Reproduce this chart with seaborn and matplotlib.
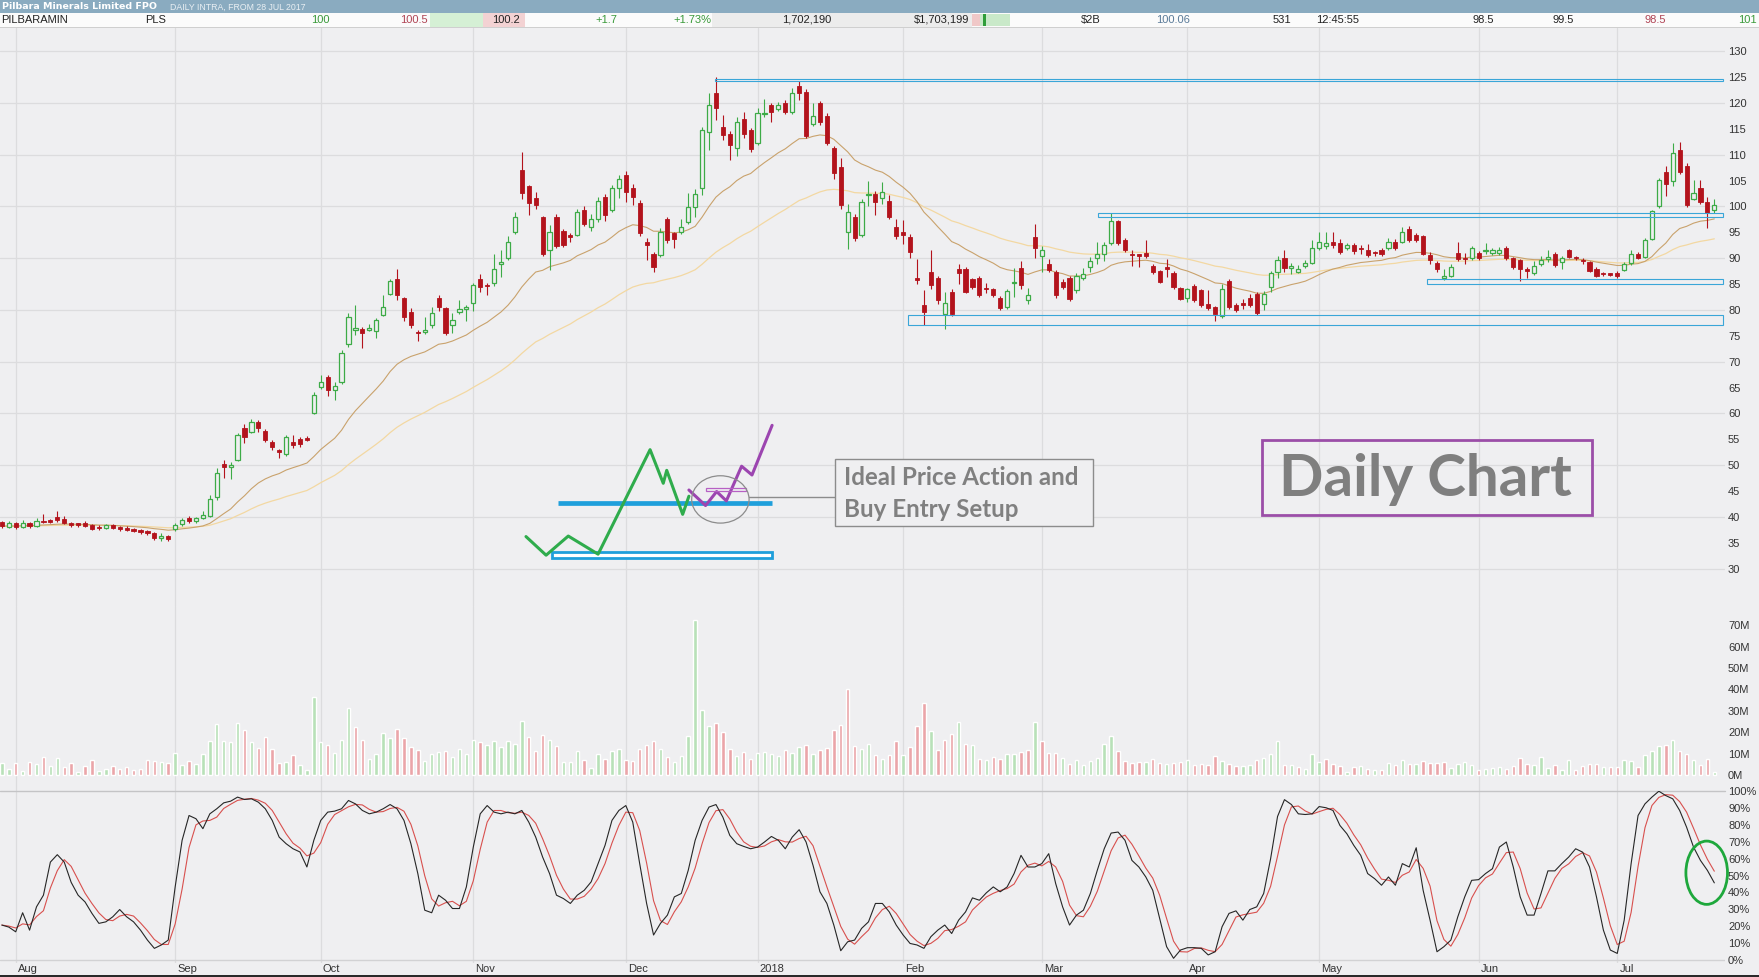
import numpy as np
import pandas as pd
import seaborn as sns
import matplotlib.pyplot as plt
from matplotlib.patches import Rectangle, Ellipse
from matplotlib.transforms import blended_transform_factory

# --- DATA: one entry per trading day, 27 Jul 2017 .. 20 Jul 2018 (cents) ---
opens = [
    39.0, 38.0, 38.8, 38.0, 38.9, 38.2, 39.3, 39.3, 40.0, 39.6, 38.9, 38.6, 38.9, 38.4, 38.0, 37.8, 38.4, 38.0, 37.9, 37.6, 37.4, 37.2, 36.8, 36.0, 36.3,  # Aug
    37.6, 38.6, 39.8, 39.2, 39.8, 40.2, 43.9, 50.2, 49.6, 51.0, 57.2, 56.5, 58.4, 56.6, 54.5, 52.9, 52.1, 54.5, 55.0, 55.2, 60.0,  # Sep
    65.2, 67.0, 64.5, 66.0, 73.5, 76.1, 76.4, 76.2, 76.0, 79.0, 83.0, 86.0, 82.3, 79.7, 75.8, 75.7, 77.0, 82.3, 80.3, 77.0, 79.6, 80.1,  # Oct
    81.3, 86.0, 84.9, 85.2, 88.8, 90.0, 95.0, 107.0, 103.9, 101.6, 98.0, 91.6, 98.0, 95.2, 94.4, 94.5, 99.4, 96.0, 97.5, 101.9, 99.3, 103.5,  # Nov
    106.1, 103.5, 100.6, 93.2, 90.9, 90.6, 97.5, 94.8, 95.1, 97.0, 99.9, 103.5, 114.4, 121.9, 115.4, 114.1, 111.4, 117.0, 114.8,  # Dec
    112.3, 117.9, 119.6, 118.8, 120.0, 118.3, 123.2, 122.2, 115.9, 120.0, 117.5, 111.4, 107.6, 95.0, 98.0, 94.5, 102.2, 102.5, 101.6, 101.1, 96.1,  # Jan
    95.0, 94.1, 86.2, 81.0, 87.4, 86.1, 79.2, 83.5, 88.0, 88.0, 85.9, 86.1, 84.2, 84.0, 82.4, 80.5, 85.2, 88.2, 81.9, 94.1,  # Feb
    90.5, 88.9, 87.4, 85.4, 86.1, 83.8, 86.1, 88.3, 90.0, 90.9, 93.0, 97.1, 93.5, 90.8, 90.7, 91.1, 88.5, 87.5, 88.1, 87.2, 84.2,  # Mar
    82.4, 84.7, 83.8, 81.1, 80.5, 78.8, 85.6, 81.0, 81.1, 82.4, 83.0, 81.1, 84.5, 87.4, 90.0, 88.2, 87.4, 88.5, 89.1,  # Apr
    91.9, 92.4, 93.2, 93.0, 91.9, 92.5, 91.8, 91.6, 91.1, 91.6, 91.9, 93.2, 93.2, 95.6, 94.5, 94.2, 90.6, 89.1, 86.1, 86.6, 91.1, 90.0, 90.0,  # May
    91.1, 91.4, 91.0, 91.0, 91.9, 90.0, 89.6, 87.9, 87.1, 88.9, 89.9, 90.9, 89.2, 91.5, 90.1, 89.6, 89.2, 88.0, 87.0, 86.9,  # Jun
    87.2, 87.8, 89.1, 90.9, 90.3, 93.8, 100.0, 106.7, 104.9, 111.0, 107.8, 101.4, 103.5, 100.8, 99.3,  # Jul
]
closes = [
    38.2, 38.8, 38.0, 38.9, 38.2, 39.3, 39.0, 39.1, 39.4, 38.9, 38.4, 38.5, 38.3, 37.7, 37.8, 38.4, 37.9, 37.6, 37.5, 37.3, 37.0, 36.8, 36.0, 36.4, 35.8,
    38.4, 39.4, 39.2, 39.8, 40.4, 43.5, 48.4, 49.7, 50.1, 55.8, 55.5, 58.4, 57.1, 54.8, 53.5, 52.6, 55.5, 53.9, 54.0, 54.9, 63.5,
    66.1, 64.5, 65.3, 71.6, 78.7, 76.5, 75.5, 76.6, 78.0, 80.6, 85.6, 82.9, 78.7, 77.1, 75.5, 76.1, 79.5, 80.6, 75.5, 78.0, 80.2, 80.6,
    84.8, 84.5, 84.6, 88.0, 89.2, 93.2, 97.9, 102.6, 100.6, 100.2, 90.8, 95.0, 92.3, 92.6, 94.1, 99.0, 96.6, 97.5, 101.0, 98.3, 103.5, 105.4,
    102.8, 101.9, 94.8, 92.5, 88.3, 95.1, 93.5, 93.8, 96.1, 99.9, 102.5, 114.8, 119.6, 119.0, 113.8, 111.9, 116.4, 114.0, 111.2,
    118.0, 118.1, 118.3, 119.6, 118.3, 121.9, 121.9, 113.6, 117.5, 116.4, 112.3, 106.4, 100.3, 99.0, 94.0, 100.9, 102.5, 100.9, 102.8, 97.9, 94.2,
    94.5, 91.3, 85.8, 79.6, 84.8, 81.9, 81.4, 79.3, 87.1, 83.5, 84.5, 82.9, 84.0, 82.9, 80.3, 83.7, 85.4, 84.8, 82.9, 91.9,
    91.5, 87.8, 82.9, 84.5, 82.2, 86.5, 87.0, 89.4, 90.9, 92.5, 97.1, 93.0, 91.6, 90.6, 90.5, 90.5, 87.3, 85.5, 88.0, 84.4, 82.2,
    84.0, 82.0, 81.0, 80.3, 79.3, 84.0, 80.5, 79.9, 81.0, 81.0, 79.5, 83.0, 87.1, 89.6, 88.2, 88.4, 88.0, 89.0, 91.9,
    93.2, 93.0, 92.5, 91.3, 92.5, 91.4, 91.7, 90.6, 91.0, 90.8, 93.2, 91.9, 95.1, 93.5, 93.5, 90.9, 89.6, 88.0, 86.6, 88.4, 89.8, 89.8, 91.9,
    90.0, 91.6, 91.6, 91.6, 90.0, 88.4, 88.0, 87.6, 88.5, 89.6, 90.1, 88.6, 90.0, 90.3, 90.0, 89.5, 87.6, 86.6, 86.9, 86.8,
    86.5, 88.9, 90.9, 90.1, 93.5, 99.1, 105.1, 104.3, 110.4, 106.7, 100.2, 102.6, 100.8, 98.8, 100.3,
]
highs = [
    39.3, 39.2, 39.0, 39.4, 39.0, 39.8, 40.5, 39.6, 41.2, 40.2, 39.1, 38.9, 39.2, 38.6, 38.4, 38.7, 38.6, 38.3, 38.2, 37.9, 37.7, 37.5, 37.0, 36.8, 36.6,
    38.8, 39.8, 40.2, 40.0, 41.2, 44.2, 49.5, 51.0, 50.6, 56.2, 58.0, 59.0, 58.7, 56.9, 54.8, 53.2, 55.9, 55.8, 55.5, 55.6, 64.2,
    67.4, 67.4, 66.0, 72.2, 79.4, 81.0, 76.8, 77.3, 78.4, 82.9, 85.9, 88.0, 82.5, 80.3, 76.2, 78.7, 80.6, 82.9, 80.6, 79.4, 81.9, 81.0,
    85.2, 87.0, 85.2, 90.8, 91.6, 94.3, 99.0, 110.5, 104.2, 102.8, 98.2, 96.5, 98.5, 95.6, 94.9, 99.6, 100.1, 98.5, 101.9, 102.4, 104.2, 106.1,
    106.8, 104.4, 101.3, 93.9, 91.3, 95.8, 98.0, 95.1, 97.5, 102.7, 103.3, 115.4, 121.9, 125.0, 117.7, 114.6, 117.3, 118.2, 115.2,
    119.0, 120.7, 120.1, 120.2, 120.5, 122.9, 124.3, 122.7, 120.0, 120.3, 118.0, 111.7, 109.3, 100.4, 98.6, 101.5, 105.0, 103.0, 104.7, 102.2, 97.5,
    97.3, 94.6, 89.9, 83.8, 91.5, 86.6, 83.4, 84.1, 88.8, 88.3, 86.2, 86.5, 85.2, 84.2, 82.7, 84.0, 88.2, 89.4, 84.2, 96.6,
    92.4, 89.9, 87.7, 85.9, 86.6, 87.1, 88.2, 90.2, 93.1, 93.2, 98.7, 97.4, 93.9, 91.6, 90.8, 93.5, 88.8, 87.8, 89.9, 87.5, 84.5,
    84.3, 85.0, 84.1, 83.9, 80.8, 85.0, 85.9, 81.3, 82.2, 83.0, 83.4, 83.6, 87.5, 90.4, 91.5, 89.0, 88.6, 89.6, 93.6,
    95.0, 95.0, 95.0, 93.7, 93.0, 93.0, 92.5, 92.8, 91.4, 92.0, 93.9, 93.8, 96.0, 96.3, 94.8, 94.5, 91.3, 89.5, 88.0, 88.9, 93.2, 91.0, 92.3,
    91.4, 92.9, 92.0, 92.1, 92.3, 90.3, 89.9, 88.4, 89.5, 90.5, 91.6, 91.3, 90.4, 91.8, 90.4, 90.0, 89.5, 88.3, 87.3, 87.2,
    87.5, 89.3, 91.5, 91.2, 93.9, 99.4, 105.6, 107.8, 112.2, 112.5, 108.5, 105.2, 105.2, 101.9, 101.4,
]
lows = [
    37.9, 37.8, 37.6, 37.8, 37.9, 38.0, 38.8, 38.8, 39.0, 38.6, 38.0, 38.1, 38.0, 37.4, 37.5, 37.6, 37.6, 37.3, 37.2, 37.0, 36.7, 36.5, 35.6, 35.4, 35.3,
    37.2, 38.2, 38.9, 38.9, 39.6, 40.0, 43.2, 47.5, 47.3, 50.8, 54.3, 56.2, 56.5, 54.4, 53.0, 51.3, 51.8, 53.4, 53.6, 54.6, 59.8,
    64.8, 63.4, 62.6, 65.6, 72.8, 75.2, 72.6, 75.9, 74.6, 78.8, 82.8, 82.0, 77.8, 76.5, 74.0, 75.4, 76.6, 79.8, 75.2, 75.5, 79.2, 77.9,
    79.8, 83.5, 82.8, 84.7, 86.4, 89.7, 94.6, 101.4, 98.4, 99.6, 90.4, 87.7, 92.0, 92.2, 93.1, 94.2, 96.2, 95.3, 97.0, 97.2, 98.9, 101.6,
    100.9, 100.3, 94.3, 89.6, 87.3, 90.2, 93.0, 91.9, 94.6, 96.6, 98.0, 102.3, 111.0, 116.8, 112.8, 108.9, 109.8, 113.2, 110.6,
    111.8, 117.3, 116.4, 118.4, 117.9, 117.8, 120.6, 113.3, 115.5, 115.7, 111.9, 105.4, 99.5, 91.8, 93.4, 94.1, 100.0, 98.3, 100.4, 97.5, 93.8,
    92.7, 90.1, 85.1, 77.1, 84.0, 81.2, 76.4, 78.9, 85.0, 83.2, 84.0, 82.5, 83.3, 82.5, 79.9, 80.2, 82.5, 84.1, 81.2, 90.1,
    87.4, 87.3, 82.4, 84.0, 81.8, 83.2, 85.7, 87.3, 88.8, 89.4, 92.6, 92.6, 91.2, 88.5, 88.4, 90.1, 87.0, 85.2, 86.4, 84.0, 81.9,
    81.5, 81.6, 80.6, 79.9, 77.9, 78.4, 80.1, 79.6, 80.2, 80.6, 79.1, 80.0, 83.4, 86.1, 87.3, 87.0, 87.1, 88.1, 88.8,
    91.5, 91.7, 92.0, 90.9, 91.5, 90.9, 90.9, 90.3, 90.5, 90.4, 91.5, 91.5, 92.9, 93.2, 93.1, 90.6, 88.8, 87.4, 85.7, 86.3, 89.5, 88.8, 89.7,
    89.6, 90.8, 90.7, 90.6, 89.6, 88.0, 85.6, 86.1, 86.8, 88.5, 89.3, 88.3, 88.0, 90.0, 89.6, 88.8, 87.3, 86.3, 86.5, 86.5,
    86.2, 87.5, 88.6, 89.8, 90.0, 93.5, 99.7, 102.0, 104.0, 106.3, 99.9, 101.2, 100.5, 95.8, 98.8,
]
# volume, millions of shares
volume_m = [
    5.8, 3.1, 5.8, 2.0, 6.2, 5.4, 8.6, 4.4, 8.1, 3.9, 5.8, 1.6, 4.2, 7.0, 1.9, 3.1, 4.2, 3.1, 3.9, 2.3, 3.1, 7.0, 6.7, 6.2, 5.8,
    10.4, 4.7, 6.5, 5.4, 10.1, 16.0, 23.8, 15.9, 15.6, 24.4, 21.0, 15.6, 12.8, 17.9, 12.1, 5.8, 6.2, 9.3, 4.7, 2.6, 36.5,
    15.6, 14.0, 10.6, 16.3, 31.4, 22.6, 16.3, 7.5, 10.1, 19.8, 17.6, 21.8, 17.6, 13.2, 11.7, 6.5, 10.1, 10.9, 11.4, 8.6, 12.4, 10.1,
    16.6, 15.6, 14.0, 15.9, 13.2, 15.9, 14.8, 25.2, 17.9, 11.4, 18.7, 16.6, 13.7, 6.2, 6.2, 11.2, 7.0, 3.4, 10.1, 7.5, 11.4, 12.1,
    7.3, 6.7, 12.4, 14.3, 15.9, 12.1, 8.6, 6.2, 9.0, 18.2, 72.3, 30.6, 22.9, 24.4, 20.2, 12.1, 8.9, 10.7, 7.8,
    10.4, 10.9, 10.1, 8.9, 11.7, 10.4, 13.2, 14.0, 10.1, 11.7, 12.8, 21.0, 23.6, 40.0, 13.7, 12.4, 14.5, 9.3, 7.8, 9.3, 15.9,
    9.3, 13.2, 22.9, 33.9, 20.5, 11.7, 16.6, 19.1, 24.9, 14.5, 14.3, 7.8, 7.0, 8.6, 7.8, 9.8, 10.1, 10.9, 11.7, 24.9,
    15.9, 10.4, 10.6, 8.1, 5.1, 7.0, 4.7, 6.5, 8.2, 14.5, 18.2, 11.2, 6.5, 5.9, 6.2, 6.2, 7.8, 5.8, 5.1, 5.9, 6.2,
    7.3, 5.0, 5.1, 5.0, 8.9, 6.5, 5.4, 4.4, 4.4, 4.7, 7.0, 8.1, 10.1, 15.9, 4.7, 5.0, 3.9, 3.1, 10.1,
    6.2, 7.5, 5.4, 4.4, 1.6, 3.9, 4.2, 3.1, 2.6, 2.6, 5.9, 5.0, 7.3, 5.4, 5.4, 6.7, 5.8, 5.9, 6.2, 3.6, 5.4, 6.2, 5.0,
    2.3, 2.8, 3.4, 3.9, 2.8, 4.4, 8.1, 5.4, 5.0, 8.6, 3.4, 4.7, 2.6, 7.0, 2.3, 4.4, 5.1, 5.1, 3.9, 3.9,
    3.9, 7.0, 6.5, 3.9, 9.3, 11.4, 13.7, 14.3, 16.3, 11.4, 10.1, 7.0, 4.7, 7.8, 1.6,
]
# slow stochastic %K (percent)
stoch_k = [
    20.7, 19.5, 16.7, 28.0, 17.7, 31.5, 38.4, 58.0, 62.4, 58.0, 46.0, 38.4, 34.4, 27.6, 21.7, 22.6, 25.6, 29.9, 25.6, 22.6, 17.7, 11.8, 6.9, 8.9, 11.8,
    43.3, 70.9, 85.6, 83.7, 77.8, 86.6, 89.6, 93.1, 94.1, 96.5, 95.1, 95.5, 93.5, 89.6, 82.7, 72.8, 68.9, 65.9, 64.0, 55.1, 70.9,
    82.7, 87.6, 88.2, 89.6, 94.5, 92.5, 88.6, 86.6, 87.6, 89.6, 92.1, 89.6, 82.7, 68.9, 51.2, 29.5, 28.0, 38.4, 35.4, 30.5, 30.5, 43.3,
    66.9, 86.6, 91.5, 87.6, 86.6, 87.6, 86.6, 88.6, 81.7, 72.8, 61.0, 51.2, 38.4, 36.4, 33.5, 38.4, 41.3, 46.3, 57.1, 67.9, 82.7, 88.6,
    91.5, 81.7, 57.1, 33.5, 14.8, 21.7, 26.6, 37.4, 39.4, 53.1, 70.9, 82.7, 90.6, 92.1, 84.6, 73.8, 68.9, 67.3, 65.9,
    66.9, 69.9, 73.2, 70.9, 65.9, 72.8, 77.2, 69.9, 56.1, 40.4, 33.5, 20.7, 5.5, 10.8, 11.8, 18.7, 22.6, 33.5, 33.5, 28.5, 20.7,
    14.8, 9.8, 8.9, 6.9, 13.8, 17.7, 20.7, 15.7, 23.6, 28.5, 36.8, 35.4, 39.8, 43.3, 40.4, 43.3, 51.2, 62.0, 55.1, 55.1,
    57.1, 63.0, 45.3, 31.5, 20.7, 26.6, 29.5, 39.4, 53.1, 65.9, 75.2, 75.8, 70.9, 59.0, 55.1, 49.2, 41.3, 24.6, 7.9, 1.0, 5.9,
    7.3, 7.3, 6.9, 3.0, 4.9, 19.7, 27.6, 29.1, 23.6, 29.9, 31.5, 39.4, 60.0, 85.0, 95.0, 92.1, 86.6, 86.2, 86.6,
    90.9, 90.2, 88.6, 79.7, 74.8, 67.9, 62.0, 51.2, 48.2, 44.3, 49.2, 44.3, 57.1, 55.1, 66.5, 41.3, 23.6, 4.9, 7.9, 11.8, 25.6, 37.4, 47.2,
    47.6, 51.2, 54.1, 66.9, 69.9, 55.1, 37.4, 26.6, 26.6, 39.4, 52.8, 52.8, 57.1, 61.0, 65.9, 63.9, 55.1, 37.4, 17.7, 5.9,
    3.9, 23.6, 57.1, 85.6, 92.5, 96.5, 100.0, 97.4, 95.5, 88.6, 78.7, 66.9, 59.0, 53.1, 45.7,
]
month_pos = [0, 23, 44, 66, 88, 107, 128, 148, 169, 188, 211, 231]
month_lbl = ['Aug', 'Sep', 'Oct', 'Nov', 'Dec', '2018', 'Feb', 'Mar', 'Apr', 'May', 'Jun', 'Jul']

# drawn support / resistance zones: (start day, low, high)
zones = [(100.8, 124.2, 124.7), (156.1, 97.9, 98.7), (203.6, 85.1, 85.9), (128.7, 77.0, 79.1)]
# hand sketch of "ideal price action"
sketch_green_x = [73.6, 76.5, 79.7, 84.0, 91.5, 93.4, 93.9, 96.2, 97.1]
sketch_green_y = [36.2, 32.6, 36.3, 32.8, 53.0, 46.5, 49.0, 40.5, 44.0]
sketch_purple_x = [97.1, 99.5, 101.1, 102.5, 104.7, 106.2, 109.1]
sketch_purple_y = [45.2, 42.2, 44.9, 43.1, 49.8, 48.1, 57.7]

# --- STYLE ---
W, H = 1759, 977
BG = '#efeff1'
GRID = '#dcdcde'
UP = '#3dab47'
DOWN = '#b3131c'
BLUE = '#1f9fdb'

df = pd.DataFrame({'open': opens, 'high': highs, 'low': lows, 'close': closes,
                   'vol': volume_m, 'k': stoch_k})
df['day'] = np.arange(len(df)) - 2
df['ema20'] = df['close'].ewm(span=20, adjust=False).mean()
df['ema50'] = df['close'].ewm(span=50, adjust=False).mean()
df['d'] = df['k'].rolling(3, min_periods=1).mean()
up = (df['close'] >= df['open']).values
vol_up = (df['close'].diff().fillna(0) >= 0).values

sns.set_theme(style='white', rc={'axes.facecolor': BG, 'figure.facecolor': BG})
plt.rcParams['font.family'] = ['Liberation Sans', 'DejaVu Sans']

fig = plt.figure(figsize=(W / 100, H / 100), dpi=100)
AXW = 1725 / W
ax_p = fig.add_axes([0, 1 - 606 / H, AXW, (606 - 28) / H])
ax_v = fig.add_axes([0, 1 - 790.7 / H, AXW, (790.7 - 606) / H], sharex=ax_p)
ax_s = fig.add_axes([0, 1 - 962.7 / H, AXW, (962.7 - 790.7) / H], sharex=ax_p)

for ax in (ax_p, ax_v, ax_s):
    ax.set_facecolor(BG)
    for s in ax.spines.values():
        s.set_visible(False)
    for m in month_pos:
        ax.axvline(m, color=GRID, lw=0.9, zorder=0)
    ax.yaxis.tick_right()
    ax.tick_params(axis='y', length=0, pad=2.2, labelsize=8, labelcolor='#333333')

ax_p.set_xlim(-2.265, 246.54)

# --- PRICE PANEL ---
for v in range(30, 131, 10):
    ax_p.axhline(v, color=GRID, lw=0.9, zorder=0)
day = df['day'].values
o, c, hi, lo = (df[k].values for k in ('open', 'close', 'high', 'low'))
body_lo = np.minimum(o, c)
body_h = np.maximum(np.abs(c - o), 0.25)
ax_p.vlines(day[up], lo[up], hi[up], color=UP, lw=0.8, zorder=2)
ax_p.vlines(day[~up], lo[~up], hi[~up], color=DOWN, lw=0.8, zorder=2)
ax_p.bar(day[up], body_h[up], bottom=body_lo[up], width=0.6, facecolor=BG,
         edgecolor=UP, lw=0.9, zorder=3)
ax_p.bar(day[~up], body_h[~up], bottom=body_lo[~up], width=0.6, facecolor=DOWN,
         edgecolor=DOWN, lw=0.6, zorder=3)
sns.lineplot(data=df, x='day', y='ema50', ax=ax_p, color='#f3d8a2', lw=0.9, zorder=1)
sns.lineplot(data=df, x='day', y='ema20', ax=ax_p, color='#c9a26c', lw=0.8, zorder=1)

for x0, y0, y1 in zones:
    ax_p.add_patch(Rectangle((x0, y0), 246.3 - x0, y1 - y0, fill=False, ec='#3aa6d8',
                             lw=0.8, zorder=4, clip_on=False))

ax_p.set_ylim(22.78, 134.5)
ax_p.set_yticks(range(30, 131, 5))
ax_p.set_yticklabels([str(v) for v in range(30, 131, 5)])

# sketch of the setup
ax_p.plot([78.18, 109.09], [42.6, 42.6], color=BLUE, lw=3.4, solid_capstyle='butt', zorder=5)
ax_p.add_patch(Rectangle((77.35, 32.0), 31.74, 1.25, fc='white', ec=BLUE, lw=2.0, zorder=5))
ax_p.plot(sketch_green_x, sketch_green_y, color='#2fac4c', lw=2.2, zorder=6)
ax_p.plot(sketch_purple_x, sketch_purple_y, color='#9c45b0', lw=2.2, zorder=6)
ax_p.add_patch(Rectangle((99.6, 45.05), 5.8, 0.45, fill=False, ec='#b760c4', lw=0.9, zorder=6))
ax_p.add_patch(Ellipse((101.64, 43.38), 8.28, 9.15, fill=False, ec='#8c8c8c', lw=0.9, zorder=6))
ax_p.plot([105.8, 118.2], [43.9, 43.9], color='#8c8c8c', lw=1.0, zorder=6)
ax_p.add_patch(Rectangle((118.2, 38.22), 37.25, 12.88, fc=BG, ec='#8c8c8c', lw=1.0, zorder=6))
ax_p.text(119.5, 46.15, 'Ideal Price Action and', family=['Lato', 'DejaVu Sans'],
          fontsize=17.4, fontweight='bold', color='#808080', va='baseline', zorder=7)
ax_p.text(119.5, 39.9, 'Buy Entry Setup', family=['Lato', 'DejaVu Sans'],
          fontsize=17.4, fontweight='bold', color='#808080', va='baseline', zorder=7)
ax_p.add_patch(Rectangle((179.8, 40.3), 47.55, 14.5, fill=False, ec='#9b4ea8', lw=2.0, zorder=6))
ax_p.text(203.3, 44.1, 'Daily Chart', family=['Lato', 'DejaVu Sans'], fontsize=42,
          fontweight='bold', color='#7f7f7f', ha='center', va='baseline', zorder=7)

# --- VOLUME PANEL ---
ax_v.bar(day, df['vol'].values, width=0.5,
         color=np.where(vol_up, '#b8e1b8', '#eba5a9'), zorder=2)
ax_v.set_ylim(-7.16, 78.9)
ax_v.set_yticks(range(0, 71, 10))
ax_v.set_yticklabels([f'{v}M' for v in range(0, 71, 10)])

# --- STOCHASTIC PANEL ---
ax_s.axhline(100, color='#c4c4c6', lw=1.0, zorder=1, clip_on=False)
ax_s.axhline(0, color='#d2d2d4', lw=1.0, zorder=1)
sns.lineplot(data=df, x='day', y='d', ax=ax_s, color='#d8504e', lw=0.8, zorder=2)
sns.lineplot(data=df, x='day', y='k', ax=ax_s, color='#262626', lw=0.8, zorder=3)
ax_s.add_patch(Ellipse((243.9, 51.7), 6.0, 37.5, fill=False, ec='#1ea83c', lw=2.0,
                       zorder=5, clip_on=False))
ax_s.set_ylim(-1.6, 100.3)
ax_s.set_yticks(range(0, 101, 10))
ax_s.set_yticklabels([f'{v}%' for v in range(0, 101, 10)])
for ax in (ax_p, ax_v, ax_s):
    ax.set_xlabel('')
    ax.set_ylabel('')
    ax.tick_params(axis='x', bottom=False, labelbottom=False)

tr = blended_transform_factory(ax_s.transData, ax_s.transAxes)
for m, lbl in zip(month_pos, month_lbl):
    ax_s.text(m + 0.3, -0.037, lbl, transform=tr, fontsize=8, color='#333333',
              ha='left', va='center', clip_on=False)


# --- HEADER & FRAME ---
def fig_rect(x, y, w, h, color):
    fig.add_artist(Rectangle((x / W, 1 - (y + h) / H), w / W, h / H,
                             transform=fig.transFigure, fc=color, ec='none', zorder=0))


fig_rect(0, 0, W, 12.7, '#8aabc0')
fig_rect(0, 12.7, W, 14.3, '#fbfbfb')
fig_rect(430, 12.7, 53, 14.3, '#d5f0d5')
fig_rect(483, 12.7, 42, 14.3, '#f3d2d3')
fig_rect(712, 12.7, 260, 14.3, '#ececec')
fig_rect(972, 14.5, 8, 11, '#f0c8c8')
fig_rect(980, 14.5, 30, 11, '#c9e9c9')
fig_rect(983, 14.5, 2.5, 11, '#2f9e3a')
fig_rect(0, 26.5, W, 1.2, '#cfcfcf')
fig_rect(0, 974.5, W, 2.5, '#2a2a2a')

fig.text(2 / W, 1 - 6.6 / H, 'Pilbara Minerals Limited FPO', color='white', fontsize=6.8,
         fontweight='bold', va='center', ha='left', family=['DejaVu Sans'])
fig.text(170 / W, 1 - 7.0 / H, 'DAILY INTRA, FROM 28 JUL 2017', color='#e9eff3',
         fontsize=6.3, va='center', ha='left')
row = [
    (1, 'PILBARAMIN', '#222222', 'left'), (145, 'PLS', '#222222', 'left'),
    (330, '100', '#3a9a3a', 'right'), (428, '100.5', '#b04455', 'right'),
    (520, '100.2', '#222222', 'right'), (617, '+1.7', '#3a9a3a', 'right'),
    (711, '+1.73%', '#3a9a3a', 'right'), (831, '1,702,190', '#222222', 'right'),
    (969, '$1,703,199', '#222222', 'right'), (1101, '$2B', '#222222', 'right'),
    (1190, '100.06', '#5a7b99', 'right'), (1291, '531', '#222222', 'right'),
    (1359, '12:45:55', '#222222', 'right'), (1494, '98.5', '#222222', 'right'),
    (1574, '99.5', '#222222', 'right'), (1666, '98.5', '#b04455', 'right'),
    (1757, '101', '#3a9a3a', 'right'),
]
for x, txt, col, ha in row:
    fig.text(x / W, 1 - 20 / H, txt, color=col, fontsize=8, ha=ha, va='center')

fig.savefig('out.png', dpi=100, facecolor=BG)
